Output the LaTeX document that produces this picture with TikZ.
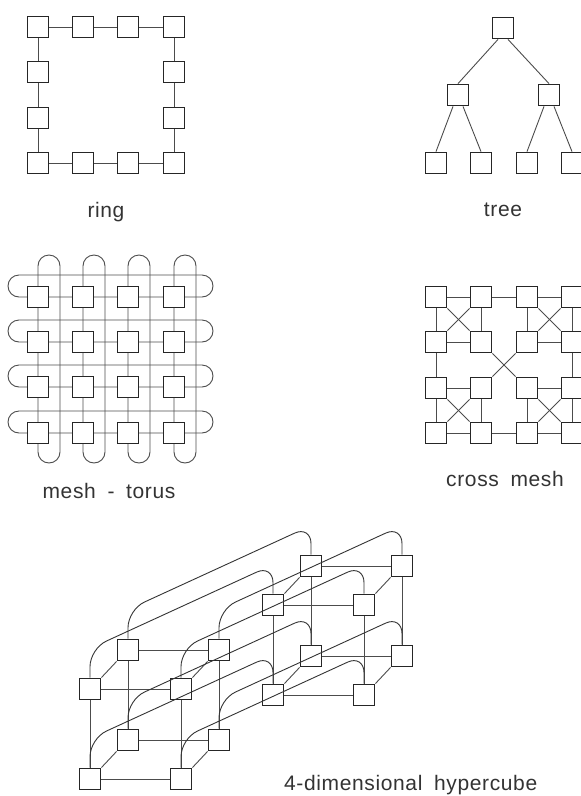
\documentclass[tikz,border=0pt]{standalone}
\usepackage{fontspec}
\setmainfont{Liberation Sans}
\newfontfamily\lblfont[WordSpace=1.8,LetterSpace=3]{Liberation Sans}
\usetikzlibrary{calc}
\begin{document}
\begin{tikzpicture}[x=1pt,y=1pt,
  sq/.style={draw=black!85, line width=1.8pt, fill=white, minimum size=21pt, inner sep=0pt},
  ln/.style={draw=black!70, line width=0.9pt},
  crv/.style={draw=black!80, line width=0.9pt, rounded corners=18pt},
  lbl/.style={font=\lblfont\fontsize{21}{24}\selectfont, text=black!80, inner sep=0pt}]
\useasboundingbox (0,0) rectangle (581,-796);
% ---------------- ring
\foreach \i/\x/\y in {1/38/27,2/83/27,3/128/27,4/174/27,5/174/72,6/174/118,7/174/163,8/128/163,9/83/163,10/38/163,11/38/118,12/38/72}
  \node[sq] (r\i) at (\x,-\y) {};
\foreach \a/\b in {1/2,2/3,3/4,4/5,5/6,6/7,7/8,8/9,9/10,10/11,11/12,12/1}
  \draw[ln] (r\a) -- (r\b);
\node[lbl] (lring) at (106,-212) {ring};
% ---------------- tree
\node[sq] (t0) at (503,-28) {};
\node[sq] (tl) at (458,-95) {};
\node[sq] (tr) at (549,-95) {};
\node[sq] (ta) at (436,-163) {};
\node[sq] (tb) at (481,-163) {};
\node[sq] (tc) at (527,-163) {};
\node[sq] (td) at (572,-163) {};
\draw[ln] ($(t0.south)+(-5,0)$) -- (tl.north);
\draw[ln] ($(t0.south)+(5,0)$) -- (tr.north);
\draw[ln] ($(tl.south)+(-5,0)$) -- (ta.north);
\draw[ln] ($(tl.south)+(5,0)$) -- (tb.north);
\draw[ln] ($(tr.south)+(-5,0)$) -- (tc.north);
\draw[ln] ($(tr.south)+(5,0)$) -- (td.north);
\node[lbl] (ltree) at (503,-210) {tree};
% ---------------- mesh - torus
\foreach \x in {38,83,128,174}
  \draw[ln, rounded corners=11pt] (\x,-255) rectangle (\x+22,-463);
\foreach \y in {297,342,387,433}
  \draw[ln, rounded corners=11pt] (8,-\y+22) rectangle (213,-\y);
\foreach \i/\y in {1/297,2/342,3/387,4/433}
  \foreach \j/\x in {1/38,2/83,3/128,4/174}
    \node[sq] (m\i\j) at (\x,-\y) {};
\node[lbl] (lmesh) at (109,-491) {mesh - torus};
% ---------------- cross mesh
\foreach \i/\y in {1/297,2/342,3/388,4/433}
  \foreach \j/\x in {1/436,2/481,3/527,4/572}
    \node[sq] (c\i\j) at (\x,-\y) {};
\foreach \a/\b in {11/12,12/13,13/14,21/22,23/24,31/32,33/34,41/42,42/43,43/44,
                   11/21,21/31,31/41,12/22,32/42,13/23,33/43,14/24,24/34,34/44}
  \draw[ln] (c\a) -- (c\b);
\foreach \a/\b in {11/22,13/24,31/42,33/44,22/33}
  \draw[ln] (c\a.south east) -- (c\b.north west);
\foreach \a/\b in {12/21,14/23,32/41,34/43,23/32}
  \draw[ln] (c\a.south west) -- (c\b.north east);
\node[lbl] (lcross) at (505,-479) {cross mesh};
% ---------------- 4-dimensional hypercube
\foreach \n/\x/\y in {A/90/689,C/181/689,E/90/779,G/181/779,B/128/650,D/219/650,F/128/740,H/219/740}{
  \node[sq] (h\n) at (\x,-\y) {};
  \node[sq] (k\n) at (\x+183,-\y+84) {};
}
\foreach \p in {h,k}{
  \foreach \a/\b in {A/C,E/G,A/E,C/G,B/D,F/H,B/F,D/H}
    \draw[ln] (\p\a) -- (\p\b);
  \foreach \a/\b in {A/B,C/D,E/F,G/H}
    \draw[ln] (\p\a.north east) -- (\p\b.south west);
}
\foreach \n in {A,B,C,D,E,F,G,H}
  \draw[crv] (h\n.north) -- ++(0,29) -- ($(k\n.north)+(0,29)$) -- (k\n.north);
\node[lbl, anchor=base west] (lhyp) at (284,-790) {4-dimensional hypercube};
\end{tikzpicture}
\end{document}
